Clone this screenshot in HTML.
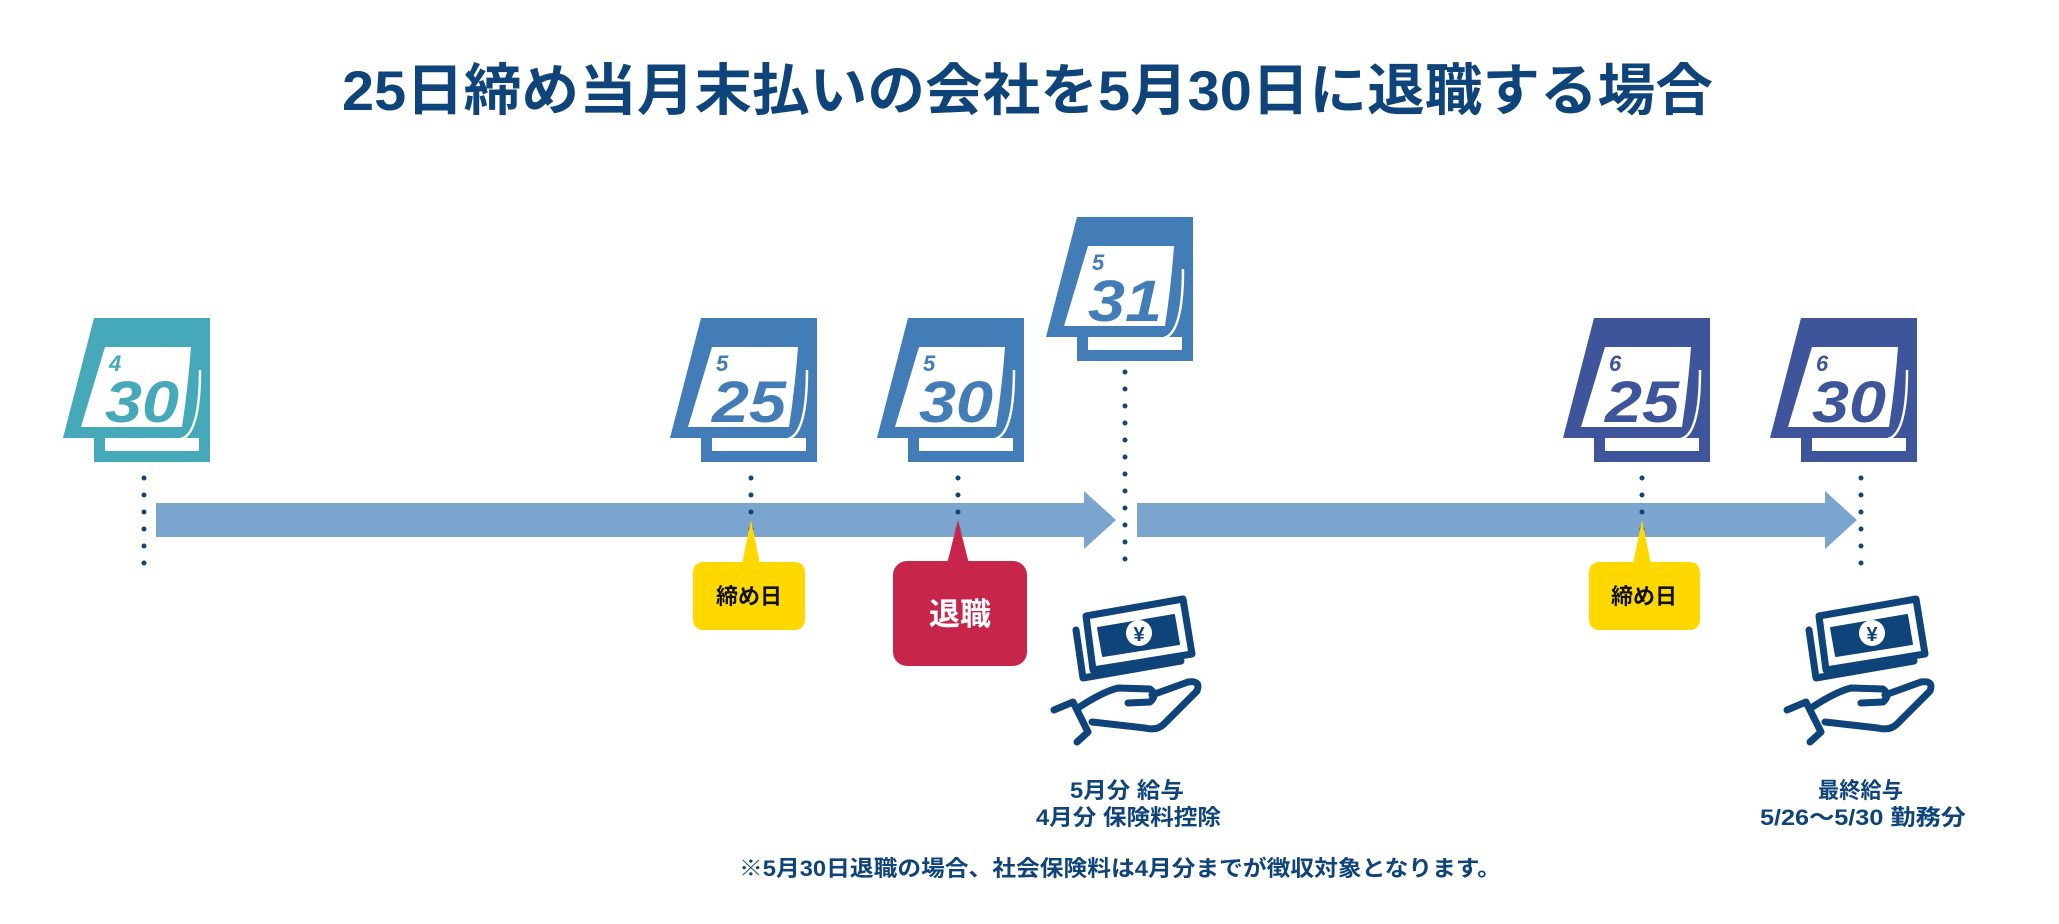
<!DOCTYPE html>
<html><head><meta charset="utf-8"><style>
html,body{margin:0;padding:0;background:#fff;}
svg{display:block}
text{font-family:"Liberation Sans","Noto Sans CJK JP",sans-serif;font-weight:bold;}
</style></head><body>
<svg width="2059" height="924" viewBox="0 0 2059 924" xmlns="http://www.w3.org/2000/svg">
<defs>
<g id="calshape">
  <path d="M31,0 H147 V144 H31 V120 H0 Z"/>
  <rect x="42" y="120" width="94" height="13" fill="#fff"/>
  <path d="M42,29 H128 Q125,70 119,109 H18 Z" fill="#fff"/>
  <path d="M137,52 Q137,116 118,121" stroke="#fff" stroke-width="2.5" fill="none"/>
</g>
<g id="money" fill="none" stroke="#0e4479" stroke-width="7" stroke-linejoin="round" stroke-linecap="round">
  <path d="M46,24 L143,7 L152,62 L53,78 Z"/>
  <path d="M58,36 L134,23 L139,52 L63,64 Z" fill="#0e4479" stroke-width="2"/>
  <circle cx="99" cy="41" r="13" fill="#fff" stroke="none"/>
  <text x="99" y="49" font-size="20" text-anchor="middle" fill="#0e4479" stroke="none">¥</text>
  <path d="M36,38 L43,86 L141,69"/>
  <path d="M14,118 L33,110 L48,140 L37,150"/>
  <path d="M38,116 Q62,100 78,96 L110,97 Q118,103 110,110 L88,111"/>
  <path d="M112,103 L148,90 Q161,88 157,99 L124,132 Q117,139 105,136 L52,130"/>
</g>
</defs>

<text x="342" y="110" font-size="56" fill="#0e4479" textLength="1371" lengthAdjust="spacingAndGlyphs">25日締め当月末払いの会社を5月30日に退職する場合</text>

<rect x="156" y="503" width="930" height="34" fill="#7ba4cf"/>
<path d="M1084,491 L1116,520 L1084,549 Z" fill="#7ba4cf"/>
<rect x="1137" y="503" width="690" height="34" fill="#7ba4cf"/>
<path d="M1825,491 L1857,520 L1825,549 Z" fill="#7ba4cf"/>

<g stroke="#0e4479" stroke-width="5" stroke-linecap="round" stroke-dasharray="0 17" fill="none">
  <line x1="144" y1="478" x2="144" y2="566"/>
  <line x1="751" y1="478" x2="751" y2="530"/>
  <line x1="958" y1="478" x2="958" y2="530"/>
  <line x1="1125" y1="372" x2="1125" y2="566"/>
  <line x1="1642" y1="478" x2="1642" y2="530"/>
  <line x1="1861" y1="478" x2="1861" y2="566"/>
</g>

<g transform="translate(63,318)" fill="#45a9b9"><use href="#calshape"/>
<text x="46" y="53" font-size="22" font-style="italic">4</text>
<text x="42" y="104" font-size="58" font-style="italic" textLength="74" lengthAdjust="spacingAndGlyphs">30</text></g>
<g transform="translate(670,318)" fill="#437db7"><use href="#calshape"/>
<text x="46" y="53" font-size="22" font-style="italic">5</text>
<text x="42" y="104" font-size="58" font-style="italic" textLength="74" lengthAdjust="spacingAndGlyphs">25</text></g>
<g transform="translate(877,318)" fill="#437db7"><use href="#calshape"/>
<text x="46" y="53" font-size="22" font-style="italic">5</text>
<text x="42" y="104" font-size="58" font-style="italic" textLength="74" lengthAdjust="spacingAndGlyphs">30</text></g>
<g transform="translate(1046,217)" fill="#437db7"><use href="#calshape"/>
<text x="46" y="53" font-size="22" font-style="italic">5</text>
<text x="42" y="104" font-size="58" font-style="italic" textLength="74" lengthAdjust="spacingAndGlyphs">31</text></g>
<g transform="translate(1563,318)" fill="#3e559c"><use href="#calshape"/>
<text x="46" y="53" font-size="22" font-style="italic">6</text>
<text x="42" y="104" font-size="58" font-style="italic" textLength="74" lengthAdjust="spacingAndGlyphs">25</text></g>
<g transform="translate(1770,318)" fill="#3e559c"><use href="#calshape"/>
<text x="46" y="53" font-size="22" font-style="italic">6</text>
<text x="42" y="104" font-size="58" font-style="italic" textLength="74" lengthAdjust="spacingAndGlyphs">30</text></g>

<path d="M751,520 L760,564 L742,564 Z" fill="#ffd800"/>
<rect x="693" y="562" width="112" height="68" rx="10" fill="#ffd800"/>
<text x="749" y="604" font-size="22" text-anchor="middle" fill="#111">締め日</text>

<path d="M958,520 L969,564 L947,564 Z" fill="#c8254a"/>
<rect x="893" y="561" width="134" height="105" rx="14" fill="#c8254a"/>
<text x="960" y="625" font-size="31" text-anchor="middle" fill="#fff">退職</text>

<path d="M1642,520 L1651,564 L1633,564 Z" fill="#ffd800"/>
<rect x="1589" y="562" width="111" height="68" rx="10" fill="#ffd800"/>
<text x="1644" y="604" font-size="22" text-anchor="middle" fill="#111">締め日</text>

<g transform="translate(1040,592)"><use href="#money"/></g>
<g transform="translate(1773,592)"><use href="#money"/></g>

<g fill="#0e4479" font-size="22">
<text x="1070" y="798" textLength="114" lengthAdjust="spacingAndGlyphs">5月分 給与</text>
<text x="1036" y="825" textLength="185" lengthAdjust="spacingAndGlyphs">4月分 保険料控除</text>
<text x="1818" y="798" textLength="85" lengthAdjust="spacingAndGlyphs">最終給与</text>
<text x="1760" y="825" textLength="206" lengthAdjust="spacingAndGlyphs">5/26〜5/30 勤務分</text>
<text x="739" y="876" textLength="762" lengthAdjust="spacingAndGlyphs">※5月30日退職の場合、社会保険料は4月分までが徴収対象となります。</text>
</g>
</svg>
</body></html>
